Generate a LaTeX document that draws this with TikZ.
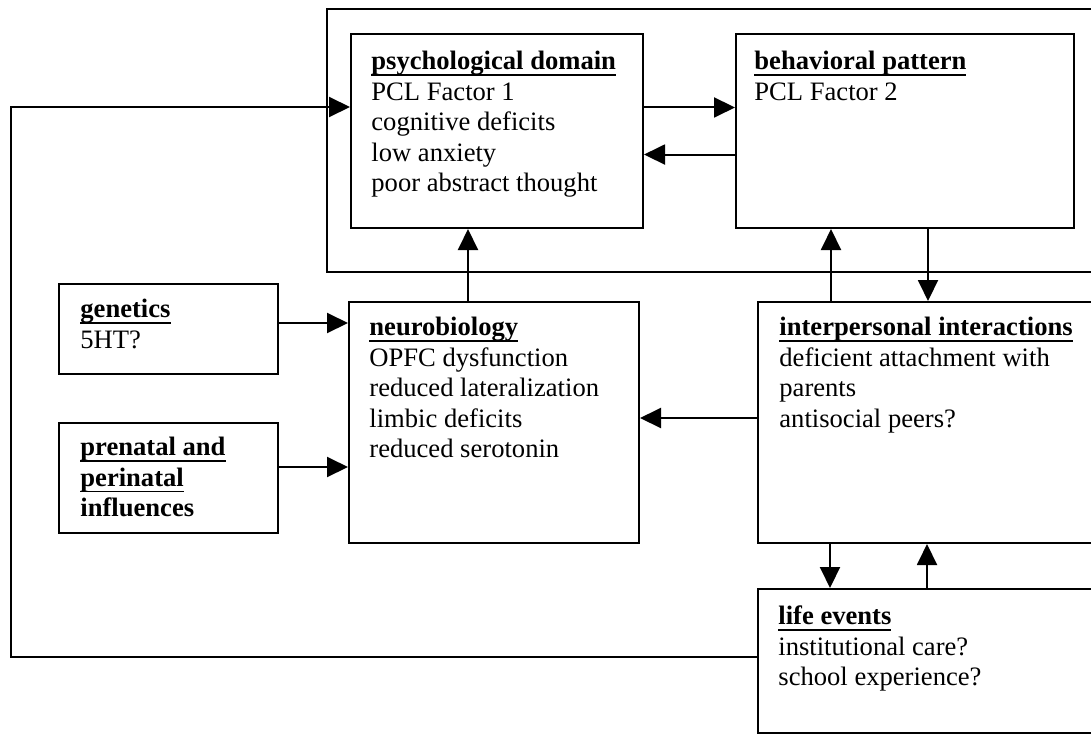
\documentclass[tikz,border=0pt]{standalone}
\usepackage{fontspec}
\setmainfont{Liberation Serif}
\usetikzlibrary{arrows.meta,calc,positioning}
\newdimen\px \px=0.5pt
\newcommand{\hd}[1]{\leavevmode\setbox0\hbox{\textbf{#1}}%
  \rlap{\vrule height -2.2pt depth 3.1pt width \wd0}\box0}
\tikzset{
  >={Triangle[length=10.5pt,width=10pt]},
  blk/.style 2 args={draw, line width=1pt, anchor=north west, inner sep=0pt,
    minimum width=#1\px, minimum height=#2\px},
  txt/.style={anchor=north west, inner sep=0pt, align=left,
    font=\fontsize{13.3}{15.25}\selectfont},
  line/.style={draw, line width=1pt, ->}
}

\begin{document}
\begin{tikzpicture}[x=0.5pt,y=-0.5pt]
  \useasboundingbox (0,0) rectangle (1091,734);
  \clip (0,0) rectangle (1091,734);

  % frame round the top pair
  \node[blk={800}{263}] (frame) at (326,8) {};

  % boxes
  \node[blk={292}{194}] (psych) at (350,33) {};
  \node[blk={338}{194}] (behav) at (735,33) {};
  \node[blk={219}{90}] (genetics) at (58,283) {};
  \node[blk={219}{110}] (prenatal) at (58,422) {};
  \node[blk={290}{241}] (neuro) at (348,301) {};
  \node[blk={360}{241}] (interp) at (757,301) {};
  \node[blk={360}{144}] (life) at (757,588) {};

  % texts
  \node[txt] (psychT) at ([shift={(21,15)}]psych.north west)
    {\strut\hd{psychological domain}\\ PCL Factor 1\\ cognitive deficits\\
     low anxiety\\ poor abstract thought};
  \node[txt] (behavT) at ([shift={(19,15)}]behav.north west)
    {\strut\hd{behavioral pattern}\\ PCL Factor 2};
  \node[txt] (geneticsT) at ([shift={(22,13)}]genetics.north west)
    {\strut\hd{genetics}\\ 5HT?};
  \node[txt] (prenatalT) at ([shift={(22,12)}]prenatal.north west)
    {\strut\hd{prenatal and}\\ \hd{perinatal}\\ \textbf{influences}};
  \node[txt] (neuroT) at ([shift={(21,13)}]neuro.north west)
    {\strut\hd{neurobiology}\\ OPFC dysfunction\\ reduced lateralization\\
     limbic deficits\\ reduced serotonin};
  \node[txt] (interpT) at ([shift={(22,13)}]interp.north west)
    {\strut\hd{interpersonal interactions}\\ deficient attachment with\\
     parents\\ antisocial peers?};
  \node[txt] (lifeT) at ([shift={(21,15)}]life.north west)
    {\strut\hd{life events}\\ institutional care?\\ school experience?};

  % connectors
  \draw[line] ($(psych.north east)!.38!(psych.south east)$)
    -- ($(behav.north west)!.38!(behav.south west)$);
  \draw[line] ($(behav.north west)!.62!(behav.south west)$)
    -- ($(psych.north east)!.62!(psych.south east)$);

  \coordinate (n1) at ($(neuro.north west)+(120,0)$);
  \draw[line] (n1) -- (n1 |- psych.south);

  \coordinate (i1) at ($(interp.north west)+(74,0)$);
  \draw[line] (i1) -- (i1 |- behav.south);
  \coordinate (i2) at ($(interp.north west)+(171,0)$);
  \draw[line] (i2 |- behav.south) -- (i2);

  \coordinate (g1) at ($(genetics.east)+(0,-6)$);
  \draw[line] (g1) -- (g1 -| neuro.west);
  \coordinate (p1) at ($(prenatal.east)+(0,-11)$);
  \draw[line] (p1) -- (p1 -| neuro.west);

  \coordinate (i3) at ($(interp.north west)+(0,117)$);
  \draw[line] (i3) -- (i3 -| neuro.east);

  \coordinate (i4) at ($(interp.south west)+(73,0)$);
  \draw[line] (i4) -- (i4 |- life.north);
  \coordinate (l1) at ($(life.north west)+(170,0)$);
  \draw[line] (l1) -- (l1 |- interp.south);

  % feedback round the left side
  \coordinate (l2) at ($(life.north west)+(0,69)$);
  \coordinate (back) at (11,107);
  \draw[line] (l2) -| (back) -- (back -| psych.west);
\end{tikzpicture}
\end{document}
